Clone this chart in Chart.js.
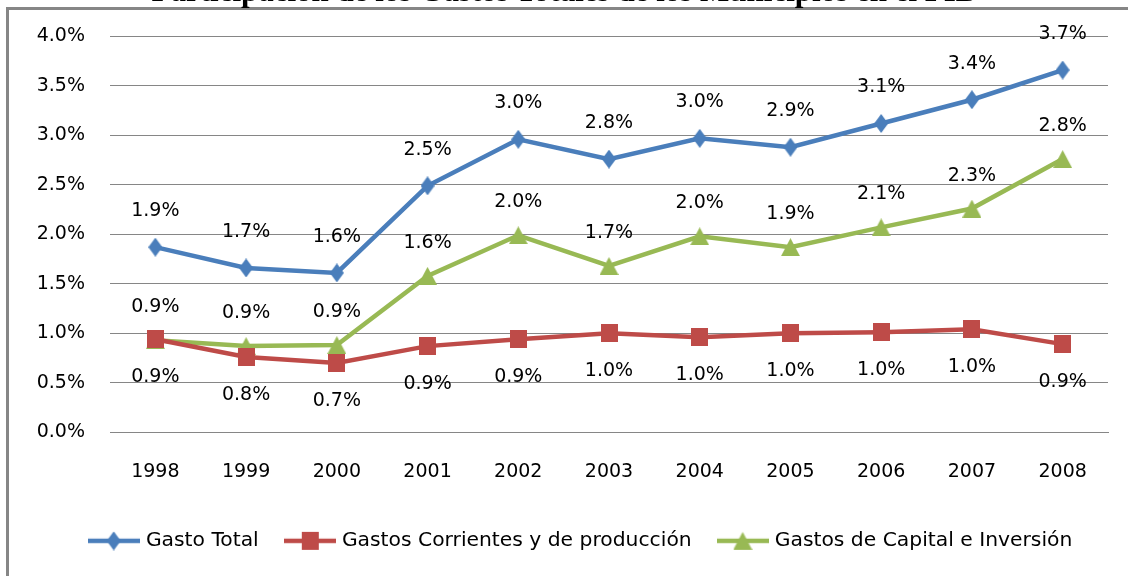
<!DOCTYPE html>
<html>
<head>
<meta charset="utf-8">
<script src="https://cdn.jsdelivr.net/npm/chart.js@4/dist/chart.umd.min.js"></script>
<style>
  html, body { margin: 0; padding: 0; background: #fff; overflow: hidden; }
  #wrap { position: relative; width: 1128px; height: 576px; overflow: hidden; }
  #frame { position: absolute; left: 6px; top: 7px; width: 1200px; height: 700px;
           border-left: 3px solid #868686; border-top: 3px solid #868686; }
  #title { position: absolute; left: 0; top: -25px; width: 1128px; text-align: center;
           font: bold 31px "Liberation Serif"; line-height: 31px; color: #000; white-space: nowrap; }
  canvas { position: absolute; left: 0; top: 0; }
</style>
</head>
<body>
<div id="wrap">
  <div id="frame"></div>
  <canvas id="chart" width="1128" height="576"></canvas>
  <div id="title">Participación de los Gastos Totales de los Municipios en el PIB</div>
</div>
<script>
var years = ['1998', '1999', '2000', '2001', '2002', '2003', '2004', '2005', '2006', '2007', '2008'];
var gastoTotal = [1.87, 1.66, 1.61, 2.49, 2.96, 2.76, 2.97, 2.88, 3.12, 3.36, 3.66];
var gastosCorrientes = [0.94, 0.76, 0.70, 0.87, 0.94, 1.00, 0.96, 1.00, 1.01, 1.04, 0.89];
var gastosCapital = [0.93, 0.87, 0.88, 1.58, 1.99, 1.68, 1.98, 1.87, 2.07, 2.26, 2.76];
var yMin = 0;
var yMax = 4;
var yStep = 0.5;

var BLUE = '#4A7EBB';
var RED = '#BE4B48';
var GREEN = '#98B954';
var GRID = '#868686';

function makeMarker(shape, color, w, h) {
  var c = document.createElement('canvas');
  c.width = w;
  c.height = h;
  var g = c.getContext('2d');
  g.fillStyle = color;
  g.beginPath();
  if (shape === 'diamond') {
    g.moveTo(w / 2, 0); g.lineTo(w, h / 2); g.lineTo(w / 2, h); g.lineTo(0, h / 2);
  } else if (shape === 'triangle') {
    g.moveTo(w / 2, 0); g.lineTo(w, h); g.lineTo(0, h);
  } else {
    g.rect(0, 0, w, h);
  }
  g.closePath();
  g.fill();
  return c;
}

function makeLegendIcon(marker, color) {
  var c = document.createElement('canvas');
  c.width = 52;
  c.height = 22;
  var g = c.getContext('2d');
  g.strokeStyle = color;
  g.lineWidth = 4.5;
  g.beginPath();
  g.moveTo(0, 11);
  g.lineTo(52, 11);
  g.stroke();
  g.drawImage(marker, 26 - marker.width / 2, 11 - marker.height / 2);
  return c;
}

var blueMarker = makeMarker('diamond', BLUE, 14, 19);
var redMarker = makeMarker('square', RED, 17, 18);
var greenMarker = makeMarker('triangle', GREEN, 19, 18);

// etiquetas de valor encima / debajo de cada punto
var valueLabels = {
  id: 'valueLabels',
  afterDatasetsDraw: function (chart) {
    var ctx = chart.ctx;
    ctx.save();
    ctx.font = '19px "DejaVu Sans"';
    ctx.fillStyle = '#000';
    ctx.textAlign = 'center';
    ctx.textBaseline = 'middle';
    chart.data.datasets.forEach(function (ds, i) {
      var meta = chart.getDatasetMeta(i);
      meta.data.forEach(function (pt, j) {
        ctx.fillText(ds.data[j].toFixed(1) + '%', pt.x, pt.y + ds.labelOffset);
      });
    });
    ctx.restore();
  }
};

// la leyenda del original no esta centrada: se corre un poco a la derecha
var legendShift = {
  id: 'legendShift',
  afterLayout: function (chart) {
    chart.legend.left += 28;
    chart.legend.right += 28;
  }
};

Chart.defaults.font.family = '"DejaVu Sans"';
Chart.defaults.font.size = 19;
Chart.defaults.color = '#000';

new Chart(document.getElementById('chart'), {
  type: 'line',
  data: {
    labels: years,
    datasets: [
      {
        label: 'Gasto Total',
        data: gastoTotal,
        borderColor: BLUE,
        backgroundColor: BLUE,
        borderWidth: 4.5,
        pointStyle: blueMarker,
        legendIcon: makeLegendIcon(blueMarker, BLUE),
        labelOffset: -36,
        clip: false,
      },
      {
        label: 'Gastos Corrientes y de producción',
        data: gastosCorrientes,
        borderColor: RED,
        backgroundColor: RED,
        borderWidth: 4.5,
        pointStyle: redMarker,
        legendIcon: makeLegendIcon(redMarker, RED),
        labelOffset: 38,
        clip: false,
      },
      {
        label: 'Gastos de Capital e Inversión',
        data: gastosCapital,
        borderColor: GREEN,
        backgroundColor: GREEN,
        borderWidth: 4.5,
        pointStyle: greenMarker,
        legendIcon: makeLegendIcon(greenMarker, GREEN),
        labelOffset: -33,
        clip: false,
      },
    ],
  },
  options: {
    responsive: false,
    animation: false,
    layout: { padding: { left: 0, right: 20, top: 36, bottom: 15 } },
    scales: {
      x: {
        offset: true,
        grid: { display: false },
        border: { color: GRID },
        ticks: { padding: 20, font: { size: 19 } },
        afterFit: function (scale) { scale.height = 69.5; },
      },
      y: {
        min: yMin,
        max: yMax,
        grid: { color: GRID, drawTicks: false },
        border: { display: false },
        ticks: {
          stepSize: yStep,
          padding: 25,
          callback: function (v) { return v.toFixed(1) + '%'; },
        },
        afterFit: function (scale) { scale.width = 110; },
      },
    },
    plugins: {
      legend: {
        position: 'bottom',
        labels: {
          usePointStyle: true,
          pointStyleWidth: 44,
          padding: 29,
          color: '#000',
          font: { size: 20.3 },
          generateLabels: function (chart) {
            var items = Chart.defaults.plugins.legend.labels.generateLabels(chart);
            items.forEach(function (item) {
              item.pointStyle = chart.data.datasets[item.datasetIndex].legendIcon;
            });
            return items;
          },
        },
      },
      tooltip: { enabled: false },
    },
  },
  plugins: [valueLabels, legendShift],
});
</script>
</body>
</html>
